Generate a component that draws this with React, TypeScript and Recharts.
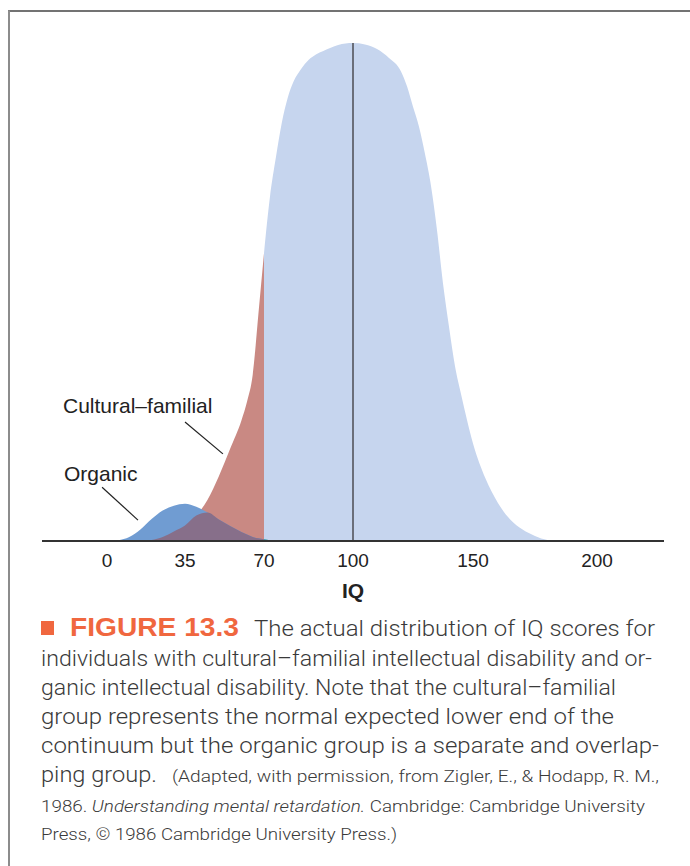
import { Area, ComposedChart, ReferenceLine, XAxis, YAxis } from "recharts";

// IQ scores sampled along the curves, and the height of each curve (peak of the
// whole population = 100).
const IQ = [
  -10, 0, 5, 10, 15, 20, 25, 30, 35, 40, 45, 50, 55, 60, 62.5, 65, 67.5, 70, 72, 74, 76, 78, 80, 82.5, 85, 87.5, 90,
  95, 100, 105, 110, 115, 120, 122.5, 125, 127.5, 130, 132.5, 135, 137.5, 140, 142.5, 145, 147.5, 150, 155, 160, 165,
  170, 175, 180, 185, 200, 220,
];

const CULTURAL_FAMILIAL = [
  0, 0, 0, 0, 0.05, 0.2, 0.8, 1.9, 3.1, 5.1, 8.3, 13.0, 18.5, 24.2, 28.0, 33.4, 45.5, 57.8, 69.1, 77.0, 84.0, 89.0,
  92.3, 94.8, 96.6, 97.7, 98.4, 99.6, 100, 99.7, 98.8, 97.0, 94.3, 91.3, 87.2, 83.2, 77.7, 71.3, 62.4, 51.7, 43.0,
  35.1, 29.5, 24.3, 19.6, 12.6, 7.7, 4.3, 2.3, 1.0, 0.2, 0, 0, 0,
];

const ORGANIC = [
  0, 0, 0.15, 0.8, 2.3, 4.4, 6.1, 7.1, 7.5, 6.9, 5.7, 4.3, 3.0, 1.8, 1.3, 0.8, 0.55, 0.35, 0.15, 0, 0, 0, 0, 0, 0, 0,
  0, 0, 0, 0, 0, 0, 0, 0, 0, 0, 0, 0, 0, 0, 0, 0, 0, 0, 0, 0, 0, 0, 0, 0, 0, 0, 0, 0,
];

const CUTOFF = 70;
const TICK_IQ = [0, 35, 70, 100, 150, 200];

// the printed axis is not to scale: these are where its labels sit along it
const AXIS_IQ = [-29, 0, 35, 70, 100, 150, 200, 227];
const AXIS_AT = [0, 65, 143, 222, 311, 431, 555, 622];

// leader lines of the two labels, in (IQ, height) units
const CULTURAL_LEADER = [
  { x: 35, y: 23.9 },
  { x: 51.8, y: 17.5 },
];
const ORGANIC_LEADER = [
  { x: -2.2, y: 10.8 },
  { x: 13.9, y: 4.2 },
];

const ORANGE = "#f0673f";
const TEXT = "#3a3a3a";
const CAPTION_FONT = "Roboto, 'Liberation Sans', Arial, sans-serif";

function brokenScale(domain: number[] = [AXIS_IQ[0], AXIS_IQ[AXIS_IQ.length - 1]], range: number[] = [0, 1]): any {
  const span = AXIS_AT[AXIS_AT.length - 1];
  const scale: any = (v: number) => {
    let i = 0;
    while (i < AXIS_IQ.length - 2 && v > AXIS_IQ[i + 1]) i++;
    const f = (v - AXIS_IQ[i]) / (AXIS_IQ[i + 1] - AXIS_IQ[i]);
    const at = (AXIS_AT[i] + f * (AXIS_AT[i + 1] - AXIS_AT[i])) / span;
    return range[0] + at * (range[1] - range[0]);
  };
  scale.domain = (d?: number[]) => (d ? ((domain = [...d]), scale) : [...domain]);
  scale.range = (r?: number[]) => (r ? ((range = [...r]), scale) : [...range]);
  scale.copy = () => brokenScale(domain, range);
  scale.ticks = () => TICK_IQ;
  scale.tickFormat = () => (v: number) => String(v);
  return scale;
}

const rows = IQ.map((iq, i) => {
  const c = CULTURAL_FAMILIAL[i];
  const o = ORGANIC[i];
  const both = Math.min(c, o);
  return {
    iq,
    below: iq <= CUTOFF ? c : null,
    above: iq >= CUTOFF ? c : null,
    organic: o,
    overlapLow: iq <= CUTOFF ? both : null,
    overlapHigh: iq >= CUTOFF ? both : null,
  };
});

const areaProps = { type: "monotone" as const, stroke: "none", fillOpacity: 1, dot: false, activeDot: false, isAnimationActive: false };

export default function App() {
  return (
    <div
      style={{
        position: "absolute",
        left: 0,
        top: 0,
        width: 690,
        height: 866,
        background: "#fff",
        fontFamily: "'Liberation Sans', Arial, sans-serif",
      }}
    >
      <ComposedChart width={690} height={610} data={rows} margin={{ top: 43, right: 26, bottom: 9, left: 42 }}>
        <YAxis type="number" domain={[0, 100]} hide width={0} allowDataOverflow />
        <Area dataKey="below" fill="#c98983" {...areaProps} />
        <Area dataKey="above" fill="#c6d5ee" {...areaProps} />
        <Area dataKey="organic" fill="#709cd2" {...areaProps} />
        <Area dataKey="overlapLow" fill="#876f8a" {...areaProps} />
        <Area dataKey="overlapHigh" fill="#2ea79a" {...areaProps} />
        <ReferenceLine segment={[{ x: 100, y: 0 }, { x: 100, y: 100 }]} stroke="#4b4b52" strokeWidth={1.5} />
        <ReferenceLine segment={CULTURAL_LEADER} stroke="#222" strokeWidth={1.2} />
        <ReferenceLine segment={ORGANIC_LEADER} stroke="#222" strokeWidth={1.2} />
        <XAxis
          dataKey="iq"
          type="number"
          domain={[AXIS_IQ[0], AXIS_IQ[AXIS_IQ.length - 1]]}
          scale={brokenScale()}
          ticks={TICK_IQ}
          interval={0}
          allowDataOverflow
          height={60}
          tickLine={false}
          tickMargin={7}
          axisLine={{ stroke: "#333", strokeWidth: 2 }}
          tick={{ fill: "#222", fontSize: 19 }}
          label={{ value: "IQ", position: "insideBottom", offset: 3, fill: "#222", fontSize: 21, fontWeight: 700 }}
        />
      </ComposedChart>

      <svg width={690} height={866} style={{ position: "absolute", left: 0, top: 0, pointerEvents: "none" }}>
        <line x1={8} y1={11} x2={690} y2={11} stroke="#444" strokeWidth={1.5} />
        <line x1={9} y1={10.5} x2={9} y2={866} stroke="#8c8c8c" strokeWidth={2} />

        <text x={63} y={413} fontSize={21} fill="#222">Cultural–familial</text>
        <text x={64} y={481} fontSize={21} fill="#222">Organic</text>

        <rect x={41} y={621} width={13} height={14} fill={ORANGE} />
        <text x={70} y={636} fontSize={26} fontWeight={700} fill={ORANGE} textLength={169} lengthAdjust="spacingAndGlyphs">
          FIGURE 13.3
        </text>
        <g fontSize={22.5} fill={TEXT} fontFamily={CAPTION_FONT} fontWeight={300}>
          <text x={254} y={636} textLength={401} lengthAdjust="spacingAndGlyphs">The actual distribution of IQ scores for</text>
          <text x={41} y={666} textLength={611} lengthAdjust="spacingAndGlyphs">
            individuals with cultural–familial intellectual disability and or-
          </text>
          <text x={41} y={695} textLength={575} lengthAdjust="spacingAndGlyphs">
            ganic intellectual disability. Note that the cultural–familial
          </text>
          <text x={41} y={724} textLength={573} lengthAdjust="spacingAndGlyphs">
            group represents the normal expected lower end of the
          </text>
          <text x={41} y={753} textLength={618} lengthAdjust="spacingAndGlyphs">
            continuum but the organic group is a separate and overlap-
          </text>
          <text x={41} y={782} textLength={116} lengthAdjust="spacingAndGlyphs">ping group.</text>
        </g>
        <g fontSize={16.5} fill={TEXT} fontFamily={CAPTION_FONT} fontWeight={300}>
          <text x={172} y={782} textLength={487} lengthAdjust="spacingAndGlyphs">
            (Adapted, with permission, from Zigler, E., &amp; Hodapp, R. M.,
          </text>
          <text x={41} y={811.5} textLength={604} lengthAdjust="spacingAndGlyphs">
            <tspan>1986. </tspan>
            <tspan fontStyle="italic">Understanding mental retardation.</tspan>
            <tspan> Cambridge: Cambridge University</tspan>
          </text>
          <text x={41} y={840} textLength={356} lengthAdjust="spacingAndGlyphs">
            Press, © 1986 Cambridge University Press.)
          </text>
        </g>
      </svg>
    </div>
  );
}
